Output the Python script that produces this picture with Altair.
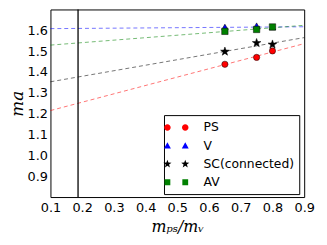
import altair as alt
import pandas as pd
import math

# ---- data ----
series = ["PS", "V", "SC(connected)", "AV"]
x_pts = [0.65, 0.75, 0.80]
ps_vals = [1.437, 1.470, 1.501]
v_vals = [1.616, 1.622, 1.615]
sc_vals = [1.498, 1.539, 1.532]
av_vals = [1.595, 1.604, 1.616]
err_vals = [0.010, 0.010, 0.010]

fit_x = [0.1, 0.9]
ps_fit = [1.215, 1.536]
v_fit = [1.608, 1.617]
sc_fit = [1.353, 1.565]
av_fit = [1.529, 1.624]

phys_x = [0.187]

x_ticks = [0.1, 0.2, 0.3, 0.4, 0.5, 0.6, 0.7, 0.8, 0.9]
y_ticks = [0.9, 1.0, 1.1, 1.2, 1.3, 1.4, 1.5, 1.6]

colors = ["#ff0000", "#0000ff", "#000000", "#008000"]
line_colors = ["#ff0000", "#0000ff", "#000000", "#008000"]

vals = {"PS": ps_vals, "V": v_vals, "SC(connected)": sc_vals, "AV": av_vals}
fits = {"PS": ps_fit, "V": v_fit, "SC(connected)": sc_fit, "AV": av_fit}

rows = []
for s in series:
    for x, y, e in zip(x_pts, vals[s], err_vals):
        rows.append({"series": s, "x": x, "y": y, "lo": y - e, "hi": y + e})
pts = pd.DataFrame(rows)

frows = []
for s in series:
    for x, y in zip(fit_x, fits[s]):
        frows.append({"series": s, "x": x, "y": y})
fitdf = pd.DataFrame(frows)

vdf = pd.DataFrame({"x": phys_x})


# ---- shapes ----
def star(cx=0.0, cy=0.0, R=1.0, r=0.4):
    p = []
    for i in range(10):
        ang = math.radians(-90 + 36 * i)
        rad = R if i % 2 == 0 else r
        p.append((cx + rad * math.cos(ang), cy + rad * math.sin(ang)))
    return "M" + " L".join(f"{a:.3f},{b:.3f}" for a, b in p) + " Z"


def circle(cx, cy, r):
    return (f"M{cx - r:.3f},{cy:.3f} A{r},{r} 0 1 0 {cx + r:.3f},{cy:.3f} "
            f"A{r},{r} 0 1 0 {cx - r:.3f},{cy:.3f} Z")


def tri(cx, cy, r):
    return f"M{cx:.3f},{cy - r:.3f} L{cx + r:.3f},{cy + r * 0.8:.3f} L{cx - r:.3f},{cy + r * 0.8:.3f} Z"


def sq(cx, cy, r):
    return f"M{cx - r:.3f},{cy - r:.3f} L{cx + r:.3f},{cy - r:.3f} L{cx + r:.3f},{cy + r:.3f} L{cx - r:.3f},{cy + r:.3f} Z"


def bar(cx, gap):
    h, c = 0.8, 0.28
    return (f"M{cx:.3f},{-h} L{cx:.3f},{-gap} M{cx:.3f},{gap} L{cx:.3f},{h} "
            f"M{cx - c:.3f},{-h} L{cx + c:.3f},{-h} M{cx - c:.3f},{h} L{cx + c:.3f},{h}")


u1, u2 = -1.29, 1.29
leg_paths = [
    " ".join([bar(u1, 0.45), bar(u2, 0.45), circle(u1, 0, 0.47), circle(u2, 0, 0.47)]),
    " ".join([bar(u1, 0.45), bar(u2, 0.45), tri(u1, 0, 0.5), tri(u2, 0, 0.5)]),
    " ".join([bar(u1, 0.55), bar(u2, 0.55), star(u1, 0, 0.62, 0.25), star(u2, 0, 0.62, 0.25)]),
    " ".join([bar(u1, 0.42), bar(u2, 0.42), sq(u1, 0, 0.42), sq(u2, 0, 0.42)]),
]
plot_shapes = ["circle", "triangle-up", star(), "square"]
plot_sizes = [40, 44, 85, 42]

xs = alt.Scale(domain=[0.1, 0.9], nice=False)
ys = alt.Scale(domain=[0.8, 1.7], nice=False)
cs = alt.Scale(domain=series, range=colors)

x_axis = alt.Axis(
    title="mₚₛ/mᵥ", values=x_ticks,
    format=".1f", grid=False, ticks=False, domain=False, labelPadding=5,
    labelOverlap=False, labelFlush=False,
    labelFontSize=13, labelFont="DejaVu Sans", labelColor="black",
    titleFont="DejaVu Serif", titleFontStyle="italic", titleFontWeight="normal",
    titleFontSize=16, titleColor="black", titlePadding=4)
y_axis = alt.Axis(
    title="ma", values=y_ticks,
    format=".1f", grid=False, ticks=False, domain=False, labelPadding=3,
    labelOverlap=False, labelFlush=False,
    labelFontSize=13, labelFont="DejaVu Sans", labelColor="black",
    titleFont="DejaVu Serif", titleFontStyle="italic", titleFontWeight="normal",
    titleFontSize=17, titleColor="black", titlePadding=1)
X = alt.X("x:Q", scale=xs, axis=x_axis)
Y = alt.Y("y:Q", scale=ys, axis=y_axis)

fit_layers = []
for s, c in zip(series, line_colors):
    fit_layers.append(
        alt.Chart(fitdf).transform_filter(alt.datum.series == s)
        .mark_line(strokeDash=[4, 3], strokeWidth=1, color=c, opacity=0.55)
        .encode(x=X, y=Y)
    )

vline = alt.Chart(vdf).mark_rule(color="black", strokeWidth=1.3).encode(x=X)

err = alt.Chart(pts).mark_rule(color="black", strokeWidth=0.8).encode(
    x=X, y=alt.Y("lo:Q", scale=ys, axis=y_axis), y2="hi:Q")

pt_layers = []
for s, shp, sz in zip(series, plot_shapes, plot_sizes):
    pt_layers.append(
        alt.Chart(pts).transform_filter(alt.datum.series == s)
        .mark_point(filled=True, shape=shp, size=sz, stroke="black",
                    strokeWidth=0.5, opacity=1)
        .encode(x=X, y=Y,
                color=alt.Color("series:N", scale=cs, sort=series,
                                legend=alt.Legend(title=None)))
    )

proxy = alt.Chart(pts).mark_point(filled=True, opacity=0).encode(
    x=X, y=Y,
    color=alt.Color("series:N", scale=cs, sort=series, legend=alt.Legend(title=None)),
    shape=alt.Shape("series:N", sort=series,
                    scale=alt.Scale(domain=series, range=leg_paths),
                    legend=alt.Legend(title=None)),
)

chart = alt.layer(*fit_layers, vline, err, *pt_layers, proxy).properties(
    width=257, height=190,
    autosize=alt.AutoSizeParams(type="none"),
    padding={"left": 43, "top": 0, "right": 15, "bottom": 40},
).configure_view(stroke="black", strokeWidth=1).configure_axis(
    labelOverlap=False
).configure_legend(
    orient="none", legendX=115, legendY=107,
    strokeColor="black", fillColor="white", padding=5, cornerRadius=0,
    symbolSize=196, symbolOpacity=1, symbolStrokeColor="black", symbolStrokeWidth=0.6,
    labelFont="DejaVu Sans", labelFontSize=12.5, labelColor="black",
    labelOffset=20, rowPadding=3.5, symbolType="circle",
)

chart.save("out.html", embed_options={"renderer": "svg", "actions": False})
